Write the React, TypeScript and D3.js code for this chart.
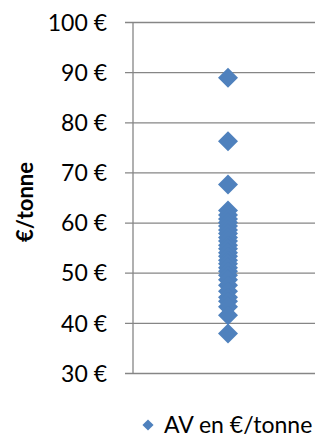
import React from "react";
import * as d3 from "d3";

// AV values in €/tonne (single category)
const avValues = [
  89, 76.3, 67.7, 62.5, 61.6, 60.8, 60.1, 59.4, 58.6, 57.9, 57.1, 56.4, 55.6,
  54.9, 54.1, 53.4, 52.6, 51.9, 51.1, 50.4, 49.6, 48.7, 47.6, 46.4, 45.2,
  44.4, 43.3, 41.6, 38,
];
const yTicks = [30, 40, 50, 60, 70, 80, 90, 100];
const seriesName = "AV en €/tonne";
const axisTitle = "€/tonne";

const W = 315;
const H = 438;
const BLUE = "#4F81BD";
const GRID = "#868686";
const FONT = "Lato, 'Open Sans', sans-serif";

export default function App() {
  const y = d3.scaleLinear().domain([30, 100]).range([373.5, 22.5]);
  const x = d3.scaleLinear().domain([0, 2]).range([133, 323]);
  const diamond = d3.symbol(d3.symbolSquare, 200)()!;
  const legendDiamond = d3.symbol(d3.symbolSquare, 62)()!;

  return (
    <svg
      width={W}
      height={H}
      style={{ position: "absolute", left: 0, top: 0, background: "#fff" }}
      fontFamily={FONT}
    >
      {/* gridlines + ticks */}
      {yTicks.map((t) => (
        <g key={t}>
          <line x1={125} x2={W} y1={y(t)} y2={y(t)} stroke={GRID} strokeWidth={1.3} />
          <text x={107} y={y(t)} dy="0.36em" textAnchor="end" fontSize={23} fill="#000">
            {t} €
          </text>
        </g>
      ))}
      {/* y axis line */}
      <line x1={133} x2={133} y1={y(100)} y2={y(30)} stroke={GRID} strokeWidth={1.3} />

      {/* axis title */}
      <text
        transform={`translate(33,${(y(30) + y(100)) / 2 + 4}) rotate(-90)`}
        textAnchor="middle"
        fontSize={22}
        fontWeight="bold"
        fill="#000"
      >
        {axisTitle}
      </text>

      {/* points */}
      {avValues.map((v, i) => (
        <path
          key={i}
          d={diamond}
          transform={`translate(${x(1)},${y(v)}) rotate(45)`}
          fill={BLUE}
        />
      ))}

      {/* legend */}
      <path d={legendDiamond} transform="translate(148,425) rotate(45)" fill={BLUE} />
      <text x={164} y={433} fontSize={23} fill="#000">
        {seriesName}
      </text>
    </svg>
  );
}
